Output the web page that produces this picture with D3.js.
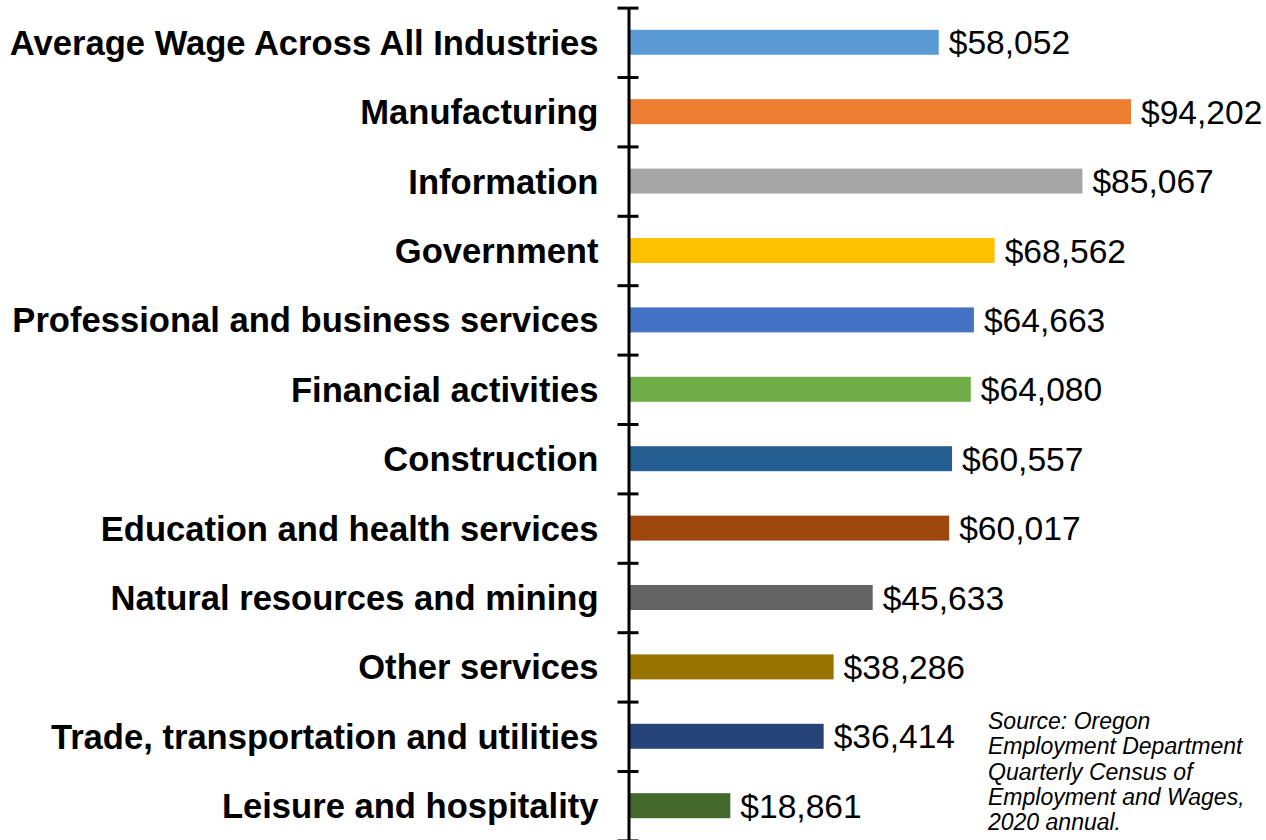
<!DOCTYPE html>
<html>
<head>
<meta charset="utf-8">
<script src="https://cdn.jsdelivr.net/npm/d3@7"></script>
<style>
  body { margin: 0; background: #fff; }
  svg { display: block; }
</style>
</head>
<body>
<div id="vis"></div>
<script>
const categories = [
    "Average Wage Across All Industries",
    "Manufacturing",
    "Information",
    "Government",
    "Professional and business services",
    "Financial activities",
    "Construction",
    "Education and health services",
    "Natural resources and mining",
    "Other services",
    "Trade, transportation and utilities",
    "Leisure and hospitality"]

const wages = [58052, 94202, 85067, 68562, 64663, 64080, 60557, 60017, 45633, 38286, 36414, 18861]

const colors = ["#5B9BD5", "#ED7D31", "#A5A5A5", "#FFC000", "#4472C4", "#70AD47",
    "#255E91", "#9E480E", "#636363", "#997300", "#264478", "#43682B"]

const sourceLines = ["Source: Oregon", "Employment Department", "Quarterly Census of",
    "Employment and Wages,", "2020 annual."]

const WIDTH = 1266
const HEIGHT = 840
const AXIS_X = 628.5
const TOP = 7.6
const BOTTOM = 840.4

const svg = d3.select("#vis")
    .append("svg")
    .attr("width", WIDTH)
    .attr("height", HEIGHT)

const data = categories.map((c, i) => ({ name: c, value: wages[i], color: colors[i] }))

// band scale for bars, linear scale for the boundary ticks
const Y = d3.scaleBand()
    .domain(categories)
    .range([TOP, BOTTOM])
    .paddingInner(0.64)
    .paddingOuter(0.32)

const Y_TICKS = d3.scaleLinear()
    .domain([0, categories.length])
    .range([TOP, BOTTOM])

const X = d3.scaleLinear()
    .domain([0, d3.max(wages)])
    .range([0, 501])

const fmt = d3.format("$,")

// bars
svg.selectAll(".bar")
    .data(data)
    .enter()
    .append("rect")
    .attr("class", "bar")
    .attr("x", AXIS_X + 1.5)
    .attr("y", d => Y(d.name))
    .attr("width", d => X(d.value))
    .attr("height", Y.bandwidth())
    .attr("fill", d => d.color)

// axis, ticks cross the line
const left = svg.append("g")
    .attr("transform", "translate(" + AXIS_X + ",0)")
    .call(d3.axisLeft(Y_TICKS).tickValues(d3.range(categories.length + 1)).tickSizeInner(11).tickSizeOuter(0).tickFormat(""))
const right = svg.append("g")
    .attr("transform", "translate(" + AXIS_X + ",0)")
    .call(d3.axisRight(Y_TICKS).tickValues(d3.range(categories.length + 1)).tickSizeInner(10).tickSizeOuter(0).tickFormat(""))
right.select(".domain").remove()
svg.selectAll(".tick line, .domain")
    .attr("stroke", "#000")
    .attr("stroke-width", 3)

// category labels
svg.selectAll(".label")
    .data(data)
    .enter()
    .append("text")
    .attr("class", "label")
    .attr("x", AXIS_X - 30)
    .attr("y", d => Y(d.name) + Y.bandwidth() / 2)
    .attr("dy", "0.36em")
    .attr("text-anchor", "end")
    .attr("font-family", "Liberation Sans, Arial, sans-serif")
    .attr("font-weight", "bold")
    .attr("font-size", "34.6px")
    .attr("fill", "#000")
    .text(d => d.name)

// value labels
svg.selectAll(".value")
    .data(data)
    .enter()
    .append("text")
    .attr("class", "value")
    .attr("x", d => AXIS_X + 1.5 + X(d.value) + 10)
    .attr("y", d => Y(d.name) + Y.bandwidth() / 2)
    .attr("dy", "0.36em")
    .attr("font-family", "Liberation Sans, Arial, sans-serif")
    .attr("font-size", "33.6px")
    .attr("fill", "#000")
    .text(d => fmt(d.value))

// source note
svg.append("text")
    .attr("x", 988)
    .attr("y", 729)
    .attr("font-family", "Liberation Sans, Arial, sans-serif")
    .attr("font-style", "italic")
    .attr("font-size", "23px")
    .attr("fill", "#000")
    .selectAll("tspan")
    .data(sourceLines)
    .enter()
    .append("tspan")
    .attr("x", 988)
    .attr("dy", (d, i) => i == 0 ? 0 : 25.3)
    .text(d => d)
</script>
</body>
</html>
